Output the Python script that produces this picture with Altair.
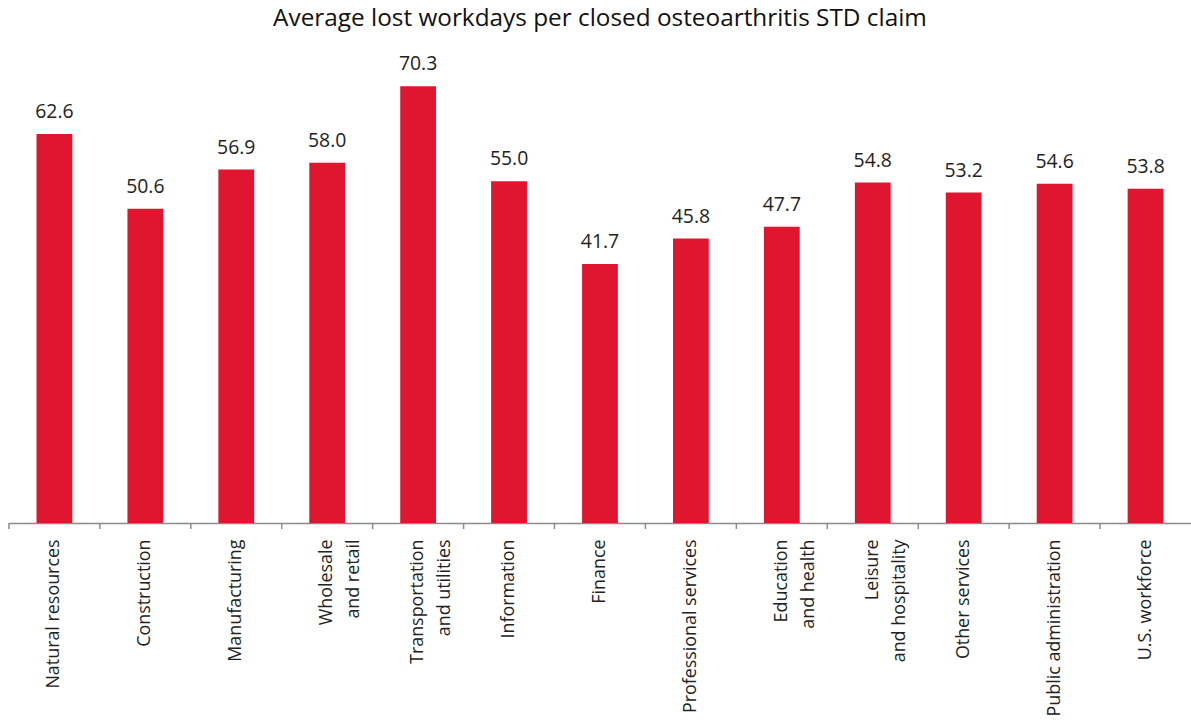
import altair as alt
import pandas as pd

categories = [
    "Natural resources", "Construction", "Manufacturing", "Wholesale\nand retail",
    "Transportation\nand utilities", "Information", "Finance", "Professional services",
    "Education\nand health", "Leisure\nand hospitality", "Other services",
    "Public administration", "U.S. workforce",
]
values = [62.6, 50.6, 56.9, 58.0, 70.3, 55.0, 41.7, 45.8, 47.7, 54.8, 53.2, 54.6, 53.8]
value_labels = ["62.6", "50.6", "56.9", "58.0", "70.3", "55.0", "41.7", "45.8", "47.7",
                "54.8", "53.2", "54.6", "53.8"]

df = pd.DataFrame({"cat": categories, "val": values, "lab": value_labels})

FONT = "Open Sans"
PLOT_H = 500
PLOT_W = 1189

x_enc = alt.X(
    "cat:N", sort=None,
    scale=alt.Scale(paddingInner=0.6, paddingOuter=0.3),
    axis=alt.Axis(
        title=None, labelAngle=-90, labelAlign="right", labelBaseline="middle",
        labelExpr="split(datum.label, '\\n')", labelFont=FONT, labelFontSize=18,
        labelColor="#222222", labelPadding=16, labelLimit=400, labelLineHeight=27,
        ticks=False, domainColor="#8c8c8c", domainWidth=1.5,
    ),
)
y_enc = alt.Y("val:Q", scale=alt.Scale(domain=[0, 80]), axis=None)

bars = alt.Chart(df).mark_bar(color="#E0152F", size=36).encode(x=x_enc, y=y_enc)

text = alt.Chart(df).mark_text(
    baseline="bottom", dy=-12, font=FONT, fontSize=19.5, color="#222222"
).encode(x=alt.X("cat:N", sort=None), y="val:Q", text="lab:N")

half_gap = PLOT_W / 13 * 0.6 / 2
ticks = alt.Chart(df).mark_rule(color="#8c8c8c", strokeWidth=1.5, xOffset=-half_gap).encode(
    x=alt.X("cat:N", sort=None, bandPosition=0),
    y=alt.value(PLOT_H),
    y2=alt.value(PLOT_H + 6),
)

chart = alt.layer(bars, text, ticks).properties(
    width=PLOT_W,
    height=PLOT_H,
    title=alt.TitleParams(
        "Average lost workdays per closed osteoarthritis STD claim",
        font=FONT, fontSize=24.5, fontWeight="normal", color="#111111",
        anchor="middle", offset=-6,
    ),
    autosize=alt.AutoSizeParams(type="none"),
    padding={"left": 9, "top": 24, "right": 0, "bottom": 203},
).configure_view(stroke=None)

chart.save("out.html", embed_options={"renderer": "svg", "actions": False})
